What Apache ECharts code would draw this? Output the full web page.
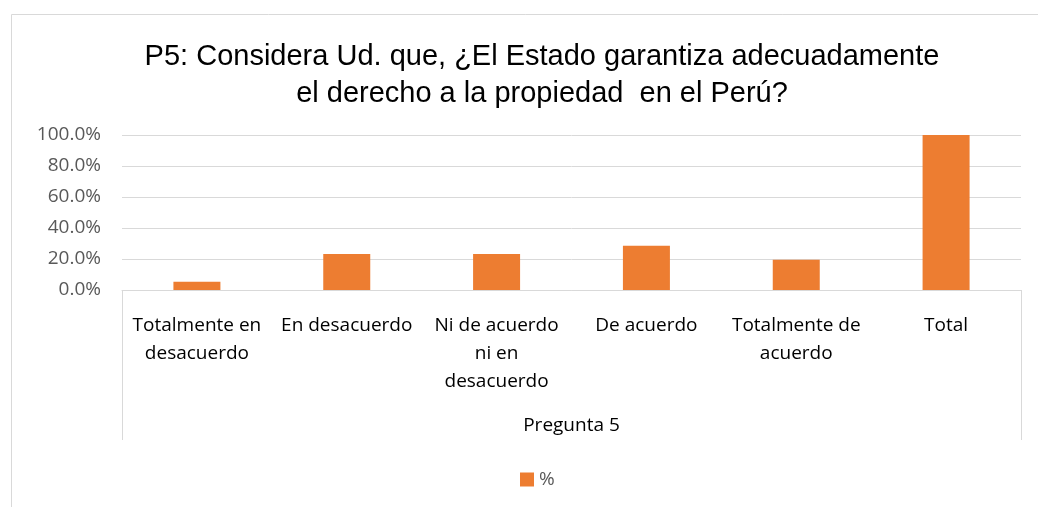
<!DOCTYPE html>
<html>
<head>
<meta charset="utf-8">
<script src="https://cdn.jsdelivr.net/npm/echarts@6/dist/echarts.min.js"></script>
<style>
  html, body { margin: 0; padding: 0; background: #fff; }
  #chart { width: 1038px; height: 507px; }
</style>
</head>
<body>
<div id="chart"></div>
<script>
// datos de la pregunta 5
var categorias = ['Totalmente en\ndesacuerdo', 'En desacuerdo', 'Ni de acuerdo\nni en\ndesacuerdo', 'De acuerdo', 'Totalmente de\nacuerdo', 'Total'];
var porcentajes = [5.3, 23.3, 23.3, 28.6, 19.5, 100];
var grupo = ['Pregunta 5'];

var labelFont = '"Open Sans", Lato, sans-serif';

var myChart = echarts.init(document.getElementById('chart'));

var option = {
    animation: false,
    title: {
        text: 'P5: Considera Ud. que, ¿El Estado garantiza adecuadamente\nel derecho a la propiedad  en el Perú?',
        left: 537,
        top: 33,
        textAlign: 'center',
        textStyle: {
            fontFamily: '"Liberation Sans", Arial, sans-serif',
            fontSize: 29,
            fontWeight: 'normal',
            color: '#000',
            lineHeight: 37
        }
    },
    legend: {
        top: 465,
        left: 515,
        itemWidth: 14,
        itemHeight: 14,
        itemGap: 6,
        icon: 'rect',
        textStyle: { fontSize: 19, color: '#595959', fontFamily: labelFont },
        data: ['%']
    },
    grid: {
        left: 122,
        right: 17,
        top: 135,
        height: 155
    },
    xAxis: [
        {
            type: 'category',
            data: categorias,
            axisLine: { lineStyle: { color: '#d9d9d9', width: 1 } },
            axisTick: { show: false },
            axisLabel: {
                interval: 0,
                margin: 22,
                color: '#000',
                fontSize: 19,
                lineHeight: 28,
                fontFamily: labelFont
            }
        },
        {
            type: 'category',
            position: 'bottom',
            data: grupo,
            axisLine: { show: false },
            axisTick: { show: true, length: 150, lineStyle: { color: '#d9d9d9' } },
            axisLabel: {
                margin: 126,
                color: '#000',
                fontSize: 19,
                fontFamily: labelFont
            }
        }
    ],
    yAxis: {
        type: 'value',
        min: 0,
        max: 100,
        interval: 20,
        axisLine: { show: false },
        axisTick: { show: false },
        splitLine: { lineStyle: { color: '#d9d9d9', width: 1 } },
        axisLabel: {
            margin: 21,
            color: '#595959',
            fontSize: 19,
            fontFamily: labelFont,
            formatter: function (v) { return v.toFixed(1) + '%'; }
        }
    },
    graphic: [
        {
            type: 'rect',
            shape: { x: 11.5, y: 14.5, width: 1040, height: 510 },
            style: { fill: null, stroke: '#d9d9d9', lineWidth: 1 },
            silent: true
        }
    ],
    series: [
        {
            name: '%',
            type: 'bar',
            xAxisIndex: 0,
            barWidth: 47,
            itemStyle: { color: '#ED7D31' },
            data: porcentajes
        }
    ]
};

myChart.setOption(option);
</script>
</body>
</html>
